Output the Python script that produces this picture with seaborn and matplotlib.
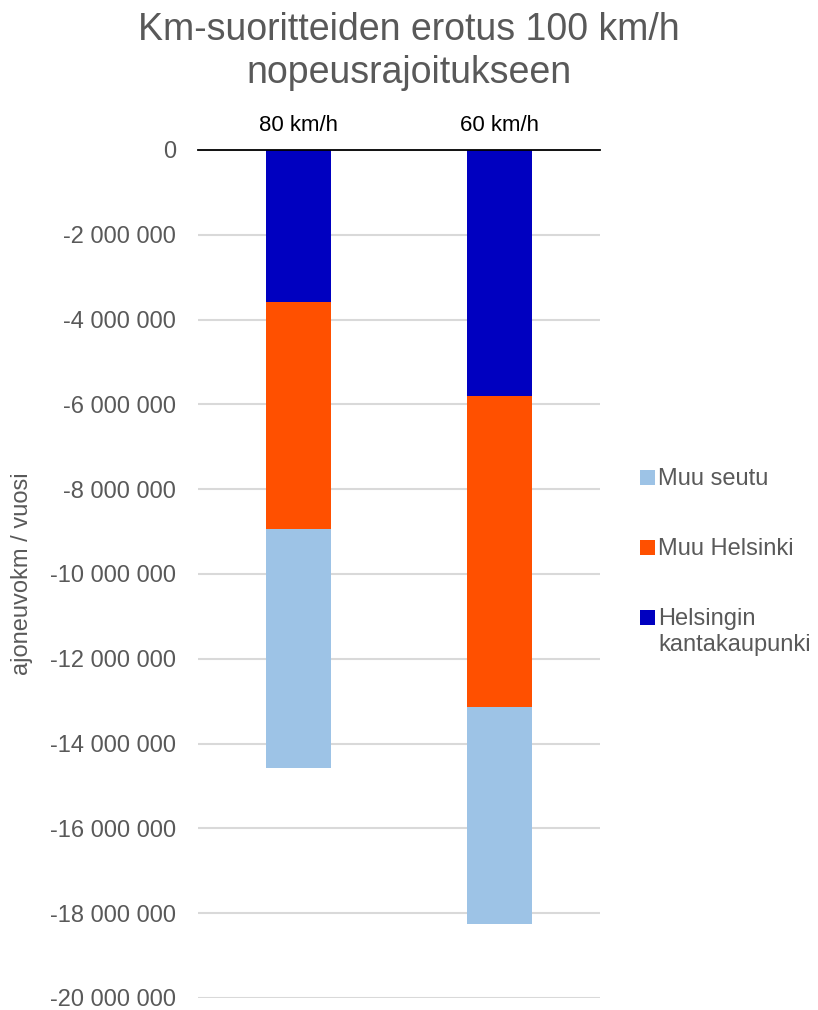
import numpy as np
import pandas as pd
import matplotlib
matplotlib.use("Agg")
import matplotlib.pyplot as plt
from matplotlib.patches import Patch, Rectangle
from matplotlib.legend_handler import HandlerPatch
from matplotlib.ticker import FuncFormatter
import seaborn as sns

# Speed-limit scenarios and the change in vehicle-km per year by area
categories = ["80 km/h", "60 km/h"]
helsingin_kantakaupunki = [-3_580_000, -5_800_000]
muu_helsinki = [-5_360_000, -7_330_000]
muu_seutu = [-5_640_000, -5_120_000]

series_names = ["Muu seutu", "Muu Helsinki", "Helsingin\nkantakaupunki"]
colors = {"Muu seutu": "#9DC3E6", "Muu Helsinki": "#FF5000",
          "Helsingin\nkantakaupunki": "#0000C0"}

y_ticks = list(range(0, -20_000_001, -2_000_000))

sns.set_theme(style="white")
plt.rcParams["font.family"] = ["Liberation Sans", "DejaVu Sans"]

# Cumulative totals for stacking (drawn from the outermost segment inward)
c1 = np.array(helsingin_kantakaupunki)
c2 = c1 + np.array(muu_helsinki)
c3 = c2 + np.array(muu_seutu)
df = pd.DataFrame({"kategoria": categories, "c1": c1, "c2": c2, "c3": c3})

fig = plt.figure(figsize=(8.18, 10.10), dpi=100)
ax = fig.add_axes([198 / 818, 12 / 1010, 402 / 818, 848 / 1010])

bar_w = 0.32
for col, name in [("c3", "Muu seutu"), ("c2", "Muu Helsinki"),
                  ("c1", "Helsingin\nkantakaupunki")]:
    sns.barplot(data=df, x="kategoria", y=col, color=colors[name],
                width=bar_w, saturation=1, ax=ax, linewidth=0, zorder=3)

ax.set_xlim(-0.5, 1.5)
ax.set_ylim(-20_000_000, 0)
ax.set_yticks(y_ticks)
ax.yaxis.set_major_formatter(
    FuncFormatter(lambda v, p: f"{int(v):,}".replace(",", " ")))
ax.grid(axis="y", color="#D9D9D9", linewidth=1.5, zorder=0)
ax.grid(axis="x", visible=False)
ax.set_axisbelow(True)

for side in ["left", "right", "bottom"]:
    ax.spines[side].set_visible(False)
ax.spines["top"].set_color("black")
ax.spines["top"].set_linewidth(1.3)
ax.spines["top"].set_zorder(4)

ax.xaxis.tick_top()
ax.tick_params(axis="x", length=0, pad=10, labelsize=16, labelcolor="black")
ax.tick_params(axis="y", length=0, pad=16, labelsize=17, labelcolor="#595959")
ax.set_xlabel("")
ax.set_ylabel("ajoneuvokm / vuosi", fontsize=17, color="#595959", labelpad=12)

fig.suptitle("Km-suoritteiden erotus 100 km/h\nnopeusrajoitukseen",
             fontsize=27, color="#595959", x=0.5, y=0.988, linespacing=1.25)


def top_aligned_square(legend, orig_handle, xdescent, ydescent, width,
                       height, fontsize):
    # keep the marker beside the first line of a two-line label
    return Rectangle((-xdescent, -ydescent + fontsize * 0.62), width, height)


handles = [Patch(facecolor=colors[n], edgecolor="none") for n in series_names]
fig.legend(handles, series_names, loc="upper left",
           bbox_to_anchor=(631 / 818, 1 - 459 / 1010), frameon=False,
           fontsize=17, labelcolor="#595959", handlelength=0.6,
           handleheight=0.6, handletextpad=0.15, labelspacing=2.03,
           borderaxespad=0,
           handler_map={handles[2]: HandlerPatch(patch_func=top_aligned_square)})

fig.savefig("out.png", dpi=100)
